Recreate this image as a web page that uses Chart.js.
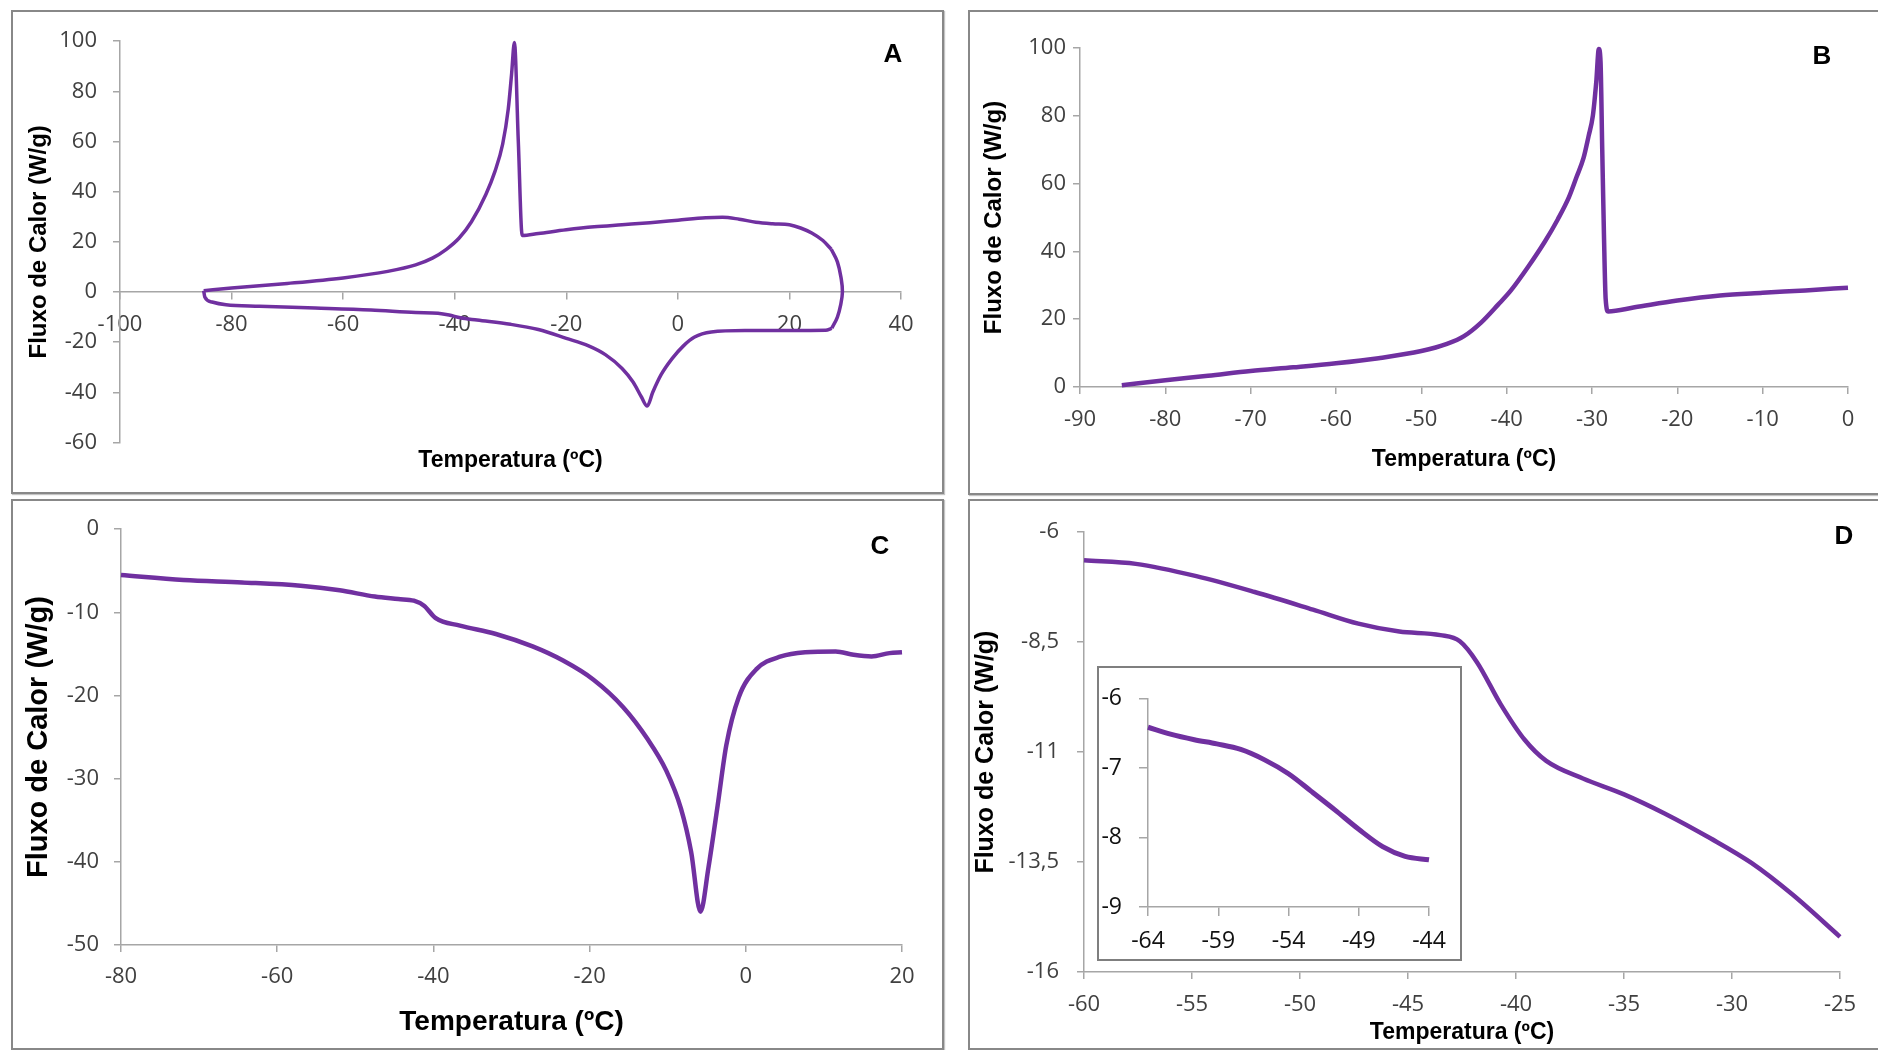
<!DOCTYPE html>
<html>
<head>
<meta charset="utf-8">
<script src="https://cdn.jsdelivr.net/npm/chart.js@4.4.1/dist/chart.umd.min.js"></script>
<style>
  html, body { margin: 0; padding: 0; background: #fff; width: 1878px; height: 1050px; overflow: hidden; }
  .panel { position: absolute; box-sizing: border-box; border: 2px solid #888; background: #fff; box-shadow: 1px 1px 1px #c4c4c4; }
  .panel canvas { display: block; }
  .inset { border-color: #7f7f7f; box-shadow: none; }
  .tag { position: absolute; font: bold 26px "Liberation Sans", Arial, sans-serif; color: #000; transform: translate(-50%, -50%); }
</style>
</head>
<body>
<div class="panel" style="left:11px;top:10px;width:933px;height:484px"><canvas id="chartA" width="929" height="480"></canvas></div>
<div class="panel" style="left:968px;top:10px;width:920px;height:485px"><canvas id="chartB" width="916" height="481"></canvas></div>
<div class="panel" style="left:11px;top:499px;width:933px;height:551px"><canvas id="chartC" width="929" height="547"></canvas></div>
<div class="panel" style="left:968px;top:499px;width:920px;height:551px"><canvas id="chartD" width="916" height="547"></canvas></div>
<div class="panel inset" style="left:1097px;top:666px;width:365px;height:295px"><canvas id="chartE" width="361" height="291"></canvas></div>
<div class="tag" style="left:893px;top:53px">A</div>
<div class="tag" style="left:1822px;top:55px">B</div>
<div class="tag" style="left:880px;top:545px">C</div>
<div class="tag" style="left:1844px;top:535px">D</div>

<script>
// A - full cycle, drawn as a loop: upper branch, right edge, lower branch back to start
const aUpperTemp = [-85, -80, -70, -60, -52, -47, -44, -41.5, -39.2, -37, -34.4, -32.8, -31.4, -30.4, -29.8, -29.3,
  -28.6, -27.9, -25, -20, -15, -10, -5, 0, 5, 8, 11, 14, 17, 20, 22, 24, 26, 27.5];
const aUpperFlux = [0.5, 1.6, 3.4, 5.6, 8.2, 10.8, 13.5, 17, 21.5, 28, 39, 48, 59, 73, 87, 99.5,
  60, 22.5, 23.3, 24.8, 26, 26.8, 27.6, 28.6, 29.6, 29.8, 29, 27.8, 27.2, 26.8, 25.5, 23.5, 20.5, 17];
const aEdgeTemp = [27.5, 28.6, 29.3, 29.5, 29.2, 28.6, 27.6];
const aEdgeFlux = [17, 12, 5, 0, -5, -10, -14.5];
const aLowerTemp = [27.6, 26.5, 20, 12, 6, 3, 1, -1, -3, -4.5, -5.5, -6.5, -8, -10, -13, -16,
  -20, -25, -30, -36, -39, -41, -43, -47, -55, -65, -75, -81, -83.5, -84.8, -85];
const aLowerFlux = [-14.5, -15.3, -15.4, -15.4, -16, -18, -21.5, -26.5, -33, -40, -45.5, -42, -36, -30.5, -25, -21.5,
  -18.5, -15, -12.9, -11.2, -10.3, -9.2, -8.5, -8.2, -7.2, -6.4, -5.7, -5.1, -4, -2, 0.5];

// B - heating branch
const bTemp = [-85.1, -80, -75, -70, -65, -60, -55, -50, -47, -45, -43, -41, -39.5, -37.5, -35.5, -34,
  -32.7, -31.8, -31, -30.4, -29.9, -29.5, -29.2, -29.0, -28.8, -28.6, -28.4, -28.1, -25, -20, -15, -10, -5, 0];
const bFlux = [0.5, 2, 3.3, 4.7, 5.8, 7, 8.5, 10.6, 12.7, 15, 19, 24.3, 28.5, 35.4, 43, 49.5,
  56, 62, 67.5, 74, 80, 90, 99.7, 96, 70, 45, 26, 22.3, 23.5, 25.5, 27, 27.8, 28.5, 29.3];

// C - cooling branch
const cTemp = [-80, -72, -64.5, -57, -52, -47.5, -44.5, -42.5, -41.2, -39.7, -36.6, -32, -27.3, -23.4, -19.5, -15.7,
  -12.6, -10.2, -8.3, -7, -5.8, -4.8, -3.6, -2.5, -0.9, 1.4, 4.5, 7.6, 11.5, 13.8, 16.1, 18.4, 20];
const cFlux = [-5.5, -6.1, -6.4, -6.8, -7.35, -8.1, -8.4, -8.6, -9.2, -10.7, -11.6, -12.6, -14.1, -15.8, -18.1, -21.4,
  -25.2, -29, -33.6, -38.8, -46, -40.8, -33.2, -26, -20.2, -16.8, -15.3, -14.8, -14.7, -15.1, -15.3, -14.9, -14.8];

// D - detail of the glass transition region
const dTemp = [-60, -57.6, -54.8, -52.1, -49.4, -47.3, -45.4, -43.5, -42.6, -41.8, -40.7, -39.6, -38.6, -36.9, -35, -33.1, -31, -29.1, -27.2, -25];
const dFlux = [-6.64, -6.72, -7, -7.36, -7.76, -8.08, -8.26, -8.34, -8.48, -8.96, -9.92, -10.72, -11.2, -11.6, -11.96, -12.4, -12.96, -13.52, -14.24, -15.2];

// D inset
const eTemp = [-64, -62.4, -60.7, -59.1, -57.4, -55.7, -54, -52.4, -50.7, -49, -47.3, -45.7, -44];
const eFlux = [-6.41, -6.51, -6.59, -6.65, -6.73, -6.88, -7.08, -7.33, -7.6, -7.88, -8.13, -8.27, -8.32];

const purple = '#7030a0';
const axisGray = '#a6a6a6';
const tickFamily = '"Open Sans", Lato, sans-serif';
const titleFamily = '"Liberation Sans", Arial, sans-serif';
const yTitle = 'Fluxo de Calor (W/g)';
const xTitle = 'Temperatura (ºC)';

function pts(xs, ys) {
  return xs.map((x, i) => ({ x, y: ys[i] }));
}

function scale(o) {
  return {
    type: 'linear',
    min: o.min,
    max: o.max,
    position: o.position,
    ticks: {
      stepSize: o.step,
      padding: o.tickPad,
      color: o.tickColor || '#404040',
      font: { family: tickFamily, size: o.tickSize || 22 },
      autoSkip: false,
      maxRotation: 0,
      callback: v => String(v).replace('.', ',')
    },
    grid: { drawOnChartArea: false, tickLength: o.tickLen || 7, color: axisGray, lineWidth: 1.5 },
    border: { color: axisGray, width: 1.5 },
    title: o.title
      ? { display: true, text: o.title, color: '#000', font: { family: titleFamily, size: o.titleSize, weight: 'bold' }, padding: o.titlePad }
      : { display: false },
    afterFit: s => {
      if (s.isHorizontal()) s.height = o.size;
      else s.width = o.size;
    }
  };
}

function line(data, width, smooth) {
  return {
    data,
    showLine: true,
    borderColor: purple,
    borderWidth: width,
    pointRadius: 0,
    cubicInterpolationMode: smooth ? 'default' : 'monotone',
    tension: smooth || 0,
    fill: false,
    clip: false
  };
}

function makeChart(id, datasets, scales, padding, extraPlugins) {
  const ctx = document.getElementById(id).getContext('2d');
  return new Chart(ctx, {
    type: 'scatter',
    data: { datasets },
    options: {
      responsive: false,
      animation: false,
      devicePixelRatio: 1,
      layout: { padding },
      scales,
      plugins: Object.assign({ legend: { display: false }, tooltip: { enabled: false } }, extraPlugins || {})
    }
  });
}

// A
makeChart('chartA', [
  line(pts(aUpperTemp, aUpperFlux), 3.5),
  line(pts(aEdgeTemp, aEdgeFlux), 3.5, 0.4),
  line(pts(aLowerTemp, aLowerFlux), 3.5)
], {
  x: scale({ min: -100, max: 40, step: 20, position: { y: 0 }, size: 0.4, tickPad: 13 }),
  y: scale({ min: -60, max: 100, step: 20, position: 'left', size: 107, tickPad: 16,
    title: yTitle, titleSize: 24, titlePad: { top: 12, bottom: 0 } })
}, { left: 0, top: 26, right: 41, bottom: 0 }, {
  title: { display: true, fullSize: false, position: 'bottom', text: xTitle, color: '#000',
    font: { family: titleFamily, size: 23, weight: 'bold' }, padding: { top: 4, bottom: 18 } }
});

// B
makeChart('chartB', [line(pts(bTemp, bFlux), 4.5)], {
  x: scale({ min: -90, max: 0, step: 10, position: 'bottom', size: 106, tickPad: 13,
    title: xTitle, titleSize: 23, titlePad: { top: 0, bottom: 20 } }),
  y: scale({ min: 0, max: 100, step: 20, position: 'left', size: 110, tickPad: 7,
    title: yTitle, titleSize: 24, titlePad: { top: 10, bottom: 0 } })
}, { left: 0, top: 36, right: 38, bottom: 0 });

// C
makeChart('chartC', [line(pts(cTemp, cFlux), 4.5)], {
  x: scale({ min: -80, max: 20, step: 20, position: 'bottom', size: 103, tickPad: 12,
    title: xTitle, titleSize: 28, titlePad: { top: 0, bottom: 9 } }),
  y: scale({ min: -50, max: 0, step: 10, position: 'left', size: 108, tickPad: 15,
    title: yTitle, titleSize: 29, titlePad: { top: 9, bottom: 0 } })
}, { left: 0, top: 19, right: 40, bottom: 0 });

// D
makeChart('chartD', [line(pts(dTemp, dFlux), 4.5)], {
  x: scale({ min: -60, max: -25, step: 5, position: 'bottom', size: 76, tickPad: 13,
    title: xTitle, titleSize: 23, titlePad: { top: 0, bottom: 2 } }),
  y: scale({ min: -16, max: -6, step: 2.5, position: 'left', size: 114, tickPad: 18,
    title: yTitle, titleSize: 25, titlePad: { top: 1, bottom: 0 } })
}, { left: 0, top: 26, right: 46, bottom: 0 });

// D inset
makeChart('chartE', [line(pts(eTemp, eFlux), 5)], {
  x: scale({ min: -64, max: -44, step: 5, position: 'bottom', size: 52, tickPad: 12, tickSize: 23, tickLen: 9, tickColor: '#111' }),
  y: scale({ min: -9, max: -6, step: 1, position: 'left', size: 49, tickPad: 17, tickSize: 23, tickLen: 9, tickColor: '#111' })
}, { left: 0, top: 21, right: 31, bottom: 0 });
</script>
</body>
</html>
